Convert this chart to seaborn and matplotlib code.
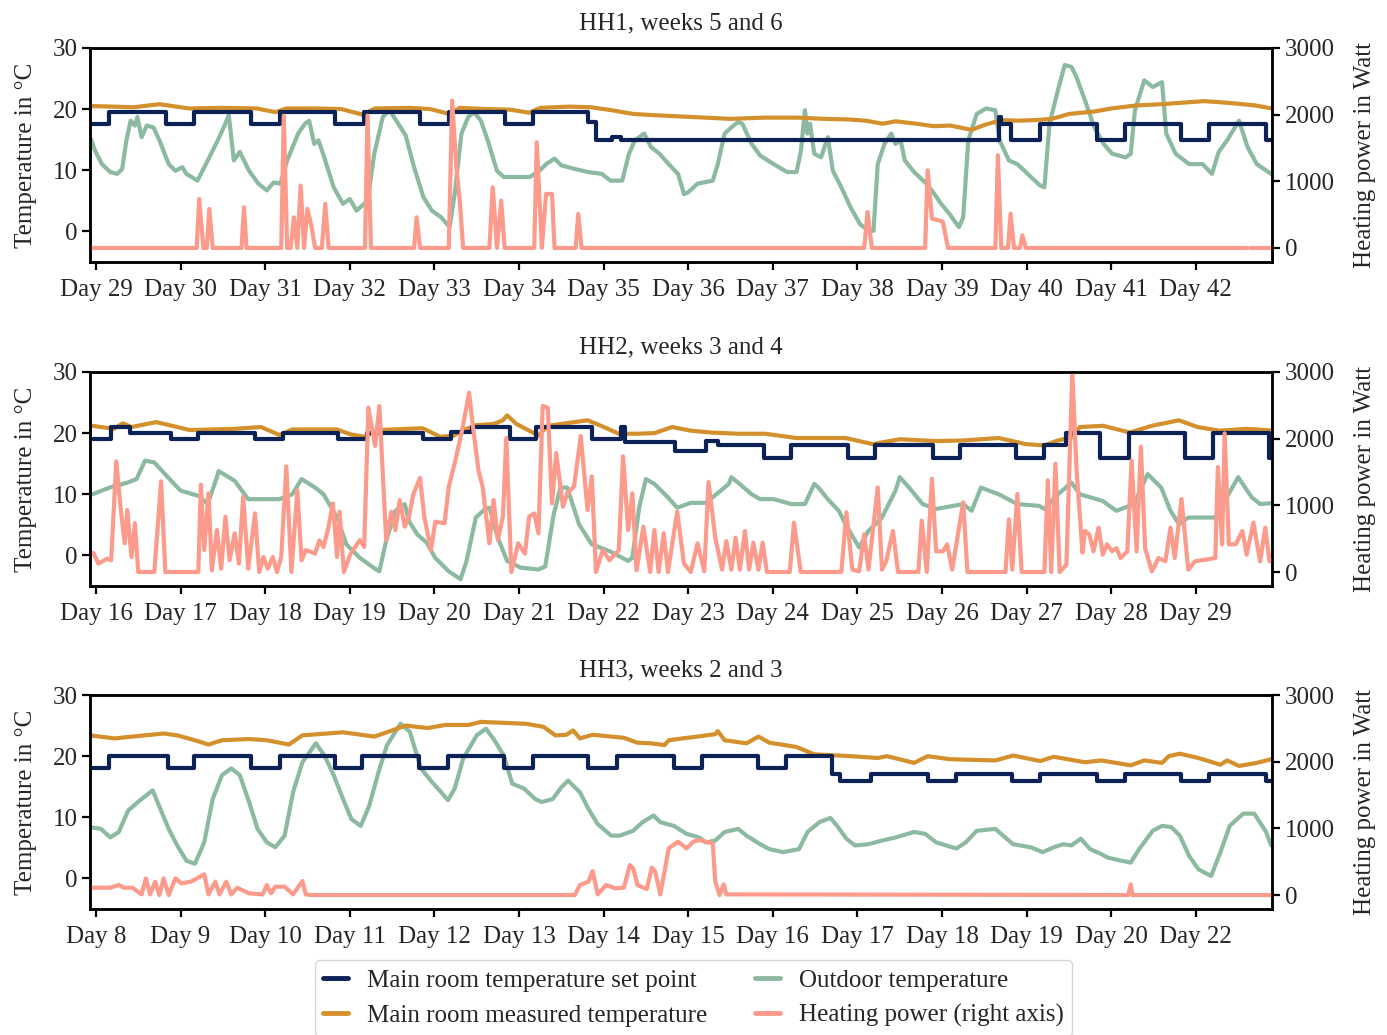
import numpy as np
import pandas as pd
import matplotlib
matplotlib.use("Agg")
import matplotlib.pyplot as plt
from matplotlib.lines import Line2D
import seaborn as sns

# ---------------------------------------------------------------- data
# time axis: fractional day numbers; temperatures in degC, power in W

# HH1, weeks 5 and 6
hh1_set_t = [28.93, 29.15, 29.83, 30.16, 30.83, 31.17, 31.82, 32.17, 32.83, 33.17, 33.83, 34.16,
             34.82, 34.91, 35.10, 35.20, 39.67, 39.70, 39.81, 40.16, 40.83, 41.16, 41.83, 42.15,
             42.83, 42.90]
hh1_set_v = [17.5, 19.5, 17.5, 19.5, 17.5, 19.5, 17.5, 19.5, 17.5, 19.5, 17.5, 19.5,
             17.9, 15.0, 15.5, 15.0, 18.7, 17.5, 15.0, 17.5, 15.0, 17.5, 15.0, 17.5,
             15.0, 15.0]
hh1_meas_t = [28.93, 29.2, 29.45, 29.75, 29.9, 30.1, 30.5, 30.9, 31.12, 31.25, 31.6, 31.9, 32.15,
              32.3, 32.7, 32.95, 33.18, 33.3, 33.6, 33.9, 34.12, 34.25, 34.6, 34.85, 35.1, 35.35,
              35.6, 35.9, 36.2, 36.5, 36.9, 37.3, 37.6, 37.9, 38.1, 38.3, 38.45, 38.7, 38.9, 39.1,
              39.35, 39.5, 39.7, 39.9, 40.1, 40.3, 40.5, 40.8, 41.0, 41.3, 41.6, 41.9, 42.1, 42.4,
              42.7, 42.9]
hh1_meas_v = [20.5, 20.4, 20.3, 20.8, 20.5, 20.1, 20.2, 20.1, 19.5, 20.1, 20.1, 20.0, 19.1,
              20.1, 20.2, 20.0, 19.2, 20.2, 20.0, 19.9, 19.4, 20.2, 20.4, 20.3, 19.8, 19.2,
              19.0, 18.8, 18.6, 18.4, 18.6, 18.6, 18.4, 18.3, 18.1, 17.6, 18.0, 17.6, 17.2, 17.3,
              16.6, 17.4, 18.2, 18.1, 18.2, 18.4, 19.2, 19.6, 20.1, 20.6, 20.8, 21.1, 21.3, 21.0,
              20.6, 20.1]
hh1_out_t = [28.94, 28.99, 29.07, 29.17, 29.25, 29.31, 29.36, 29.41, 29.46, 29.49, 29.54, 29.60,
             29.68, 29.75, 29.86, 29.94, 30.02, 30.07, 30.20, 30.34, 30.44, 30.52, 30.57, 30.63,
             30.70, 30.81, 30.92, 31.02, 31.10, 31.18, 31.26, 31.34, 31.39, 31.47, 31.52, 31.58,
             31.63, 31.71, 31.81, 31.92, 32.00, 32.08, 32.16, 32.21, 32.29, 32.39, 32.47, 32.55,
             32.66, 32.76, 32.87, 32.97, 33.08, 33.18, 33.24, 33.32, 33.40, 33.47, 33.55, 33.63,
             33.74, 33.82, 34.13, 34.24, 34.32, 34.42, 34.50, 34.66, 34.82, 34.98, 35.08, 35.22,
             35.30, 35.37, 35.48, 35.56, 35.66, 35.77, 35.88, 35.95, 36.00, 36.11, 36.29, 36.35,
             36.43, 36.51, 36.59, 36.64, 36.75, 36.85, 37.01, 37.17, 37.28, 37.33, 37.38, 37.41,
             37.44, 37.49, 37.57, 37.65, 37.71, 37.81, 37.92, 38.03, 38.13, 38.19, 38.24, 38.32,
             38.40, 38.45, 38.51, 38.56, 38.67, 38.80, 38.88, 38.99, 39.09, 39.20, 39.25, 39.31,
             39.41, 39.52, 39.63, 39.68, 39.79, 39.89, 40.05, 40.16, 40.21, 40.27, 40.37, 40.45,
             40.53, 40.59, 40.69, 40.80, 40.91, 41.01, 41.17, 41.23, 41.28, 41.39, 41.49, 41.60,
             41.65, 41.76, 41.92, 42.08, 42.19, 42.27, 42.37, 42.51, 42.61, 42.72, 42.89]
hh1_out_v = [15.1, 13.2, 11.0, 9.7, 9.4, 10.2, 14.9, 18.1, 17.3, 18.7, 15.4, 17.3,
             17.0, 14.9, 11.0, 9.9, 10.5, 9.4, 8.3, 12.1, 14.9, 17.3, 19.0, 11.6,
             13.0, 9.9, 7.8, 6.7, 8.0, 7.8, 11.6, 14.3, 16.0, 17.6, 18.1, 14.3,
             14.9, 11.6, 7.2, 4.5, 5.3, 3.4, 4.4, 5.0, 12.7, 18.7, 19.8, 18.1,
             15.7, 10.5, 5.6, 3.4, 2.3, 0.7, 6.1, 16.0, 18.7, 19.5, 18.1, 14.9,
             9.9, 8.9, 8.9, 9.9, 11.0, 11.9, 10.8, 10.2, 9.7, 9.4, 8.3, 8.3,
             12.7, 14.9, 16.0, 13.8, 12.7, 11.0, 9.4, 6.1, 6.4, 7.8, 8.3, 11.0,
             16.0, 17.0, 17.9, 17.6, 14.3, 12.4, 11.0, 9.7, 9.7, 13.0, 19.8, 16.0,
             17.6, 12.7, 12.1, 15.4, 9.9, 7.2, 3.9, 1.2, 0.1, 0.1, 11.0, 14.3,
             16.0, 14.3, 14.9, 11.6, 9.7, 8.0, 6.7, 4.5, 2.8, 0.7, 2.3, 14.9,
             19.2, 20.1, 19.8, 14.9, 11.6, 11.0, 8.9, 7.5, 7.2, 17.6, 23.1, 27.2,
             26.9, 25.2, 21.4, 17.0, 14.3, 12.7, 12.1, 12.7, 19.8, 24.7, 23.6, 24.4,
             16.0, 12.7, 11.0, 11.0, 9.4, 13.0, 14.9, 18.1, 13.8, 11.0, 9.4]
hh1_heat_t = [28.93, 30.19, 30.22, 30.27, 30.31, 30.34, 30.38, 30.72, 30.75, 30.78, 31.19, 31.22,
              31.26, 31.30, 31.34, 31.38, 31.42, 31.46, 31.50, 31.55, 31.59, 31.67, 31.71, 31.75,
              32.18, 32.21, 32.25, 32.76, 32.79, 32.83, 33.17, 33.21, 33.26, 33.30, 33.34, 33.65,
              33.69, 33.74, 33.79, 33.83, 34.18, 34.21, 34.27, 34.32, 34.39, 34.42, 34.67, 34.70,
              34.74, 38.08, 38.12, 38.17, 38.80, 38.83, 38.88, 38.96, 39.01, 39.07, 39.63, 39.66,
              39.70, 39.78, 39.81, 39.85, 39.92, 39.95, 39.99, 42.60, 42.62, 42.64, 42.90]
hh1_heat_v = [0, 0, 735, 0, 0, 585, 0, 0, 610, 0, 0, 1985,
              0, 0, 460, 0, 935, 0, 585, 310, 0, 0, 660, 0,
              0, 1985, 0, 0, 460, 0, 0, 2210, 1210, 710, 0, 0,
              910, 0, 710, 0, 0, 1585, 0, 810, 810, 0, 0, 510,
              0, 0, 540, 0, 0, 1165, 440, 415, 390, 0, 0, 1390,
              0, 0, 515, 0, 0, 190, 0, 0, np.nan, 0, 0]

# HH2, weeks 3 and 4
hh2_set_t = [15.96, 16.18, 16.40, 16.89, 17.21, 17.88, 18.21, 18.86, 19.20, 19.87, 20.20, 20.44,
             20.89, 21.20, 21.86, 22.21, 22.25, 22.84, 23.21, 23.35, 23.89, 24.21, 24.89, 25.21,
             25.89, 26.21, 26.88, 27.21, 27.47, 27.87, 28.21, 28.87, 29.20, 29.87, 29.94]
hh2_set_v = [19.0, 21.0, 20.0, 19.0, 20.0, 19.0, 20.0, 19.0, 20.0, 19.0, 20.2, 21.0,
             19.0, 21.0, 19.0, 21.0, 18.5, 17.0, 18.7, 18.1, 16.0, 18.1, 16.0, 18.1,
             16.0, 18.1, 16.0, 18.1, 20.1, 16.0, 20.1, 16.0, 20.1, 16.0, 16.0]
hh2_meas_t = [15.96, 16.21, 16.32, 16.42, 16.71, 16.90, 17.11, 17.64, 17.95, 18.17, 18.32, 18.85,
              19.01, 19.17, 19.33, 19.86, 20.07, 20.23, 20.33, 20.49, 20.70, 20.81, 20.86, 20.97,
              21.23, 21.34, 21.55, 21.81, 21.97, 22.18, 22.39, 22.60, 22.81, 23.03, 23.27, 23.59,
              23.91, 24.28, 24.86, 25.18, 25.50, 25.93, 26.25, 26.67, 26.99, 27.21, 27.37, 27.53,
              27.63, 27.90, 28.22, 28.48, 28.80, 29.02, 29.28, 29.60, 29.93]
hh2_meas_v = [21.2, 20.7, 21.6, 21.0, 21.8, 21.2, 20.5, 20.7, 21.0, 19.7, 20.6, 20.6,
              19.8, 19.4, 20.5, 20.8, 19.4, 19.6, 20.4, 21.3, 21.5, 22.1, 22.9, 21.5,
              19.6, 21.2, 21.6, 22.1, 21.2, 19.9, 19.9, 20.0, 21.0, 20.4, 20.1, 19.9,
              19.9, 19.2, 19.2, 18.2, 19.0, 18.7, 18.8, 19.2, 18.2, 18.0, 18.8, 19.3,
              21.0, 21.2, 20.1, 21.2, 22.1, 21.0, 20.4, 20.7, 20.4]
hh2_out_t = [15.96, 16.16, 16.37, 16.48, 16.58, 16.69, 16.85, 17.00, 17.22, 17.32, 17.43, 17.45,
             17.64, 17.80, 18.17, 18.32, 18.43, 18.59, 18.69, 18.85, 18.96, 19.12, 19.28, 19.35,
             19.43, 19.54, 19.65, 19.70, 19.80, 19.91, 20.01, 20.17, 20.31, 20.38, 20.49, 20.60,
             20.65, 20.75, 20.86, 21.02, 21.23, 21.31, 21.41, 21.49, 21.57, 21.71, 21.86, 22.07,
             22.29, 22.34, 22.42, 22.50, 22.60, 22.76, 22.87, 23.03, 23.21, 23.48, 23.51, 23.59,
             23.75, 23.85, 24.01, 24.22, 24.38, 24.49, 24.54, 24.65, 24.78, 24.86, 25.02, 25.13,
             25.29, 25.45, 25.50, 25.61, 25.77, 25.93, 26.25, 26.35, 26.46, 26.67, 26.89, 27.15,
             27.21, 27.37, 27.53, 27.63, 27.90, 28.06, 28.27, 28.43, 28.59, 28.70, 28.80, 28.91,
             29.23, 29.34, 29.50, 29.66, 29.76, 29.93]
hh2_out_v = [10.0, 11.1, 11.9, 12.5, 15.5, 15.2, 12.8, 10.6, 9.7, 8.4, 12.8, 13.8,
             12.2, 9.2, 9.2, 10.0, 12.5, 11.1, 10.0, 6.2, 1.8, -0.4, -2.0, -2.6,
             2.4, 7.3, 8.4, 5.6, 3.4, 2.1, -0.4, -2.6, -3.9, -0.9, 6.2, 7.6,
             7.8, 2.9, -0.9, -2.0, -2.3, -1.8, 6.7, 11.1, 11.1, 5.1, 1.8, 0.7,
             -0.9, -0.4, 7.8, 12.5, 11.7, 9.5, 7.8, 8.6, 8.6, 11.7, 12.8, 11.9,
             10.0, 9.2, 9.2, 8.4, 8.4, 11.7, 11.1, 9.2, 7.3, 5.1, 1.3, 4.0,
             6.2, 10.6, 12.8, 11.1, 8.4, 7.6, 8.4, 7.3, 11.1, 10.0, 8.4, 8.1,
             7.6, 10.0, 11.9, 10.0, 8.9, 7.3, 8.4, 13.3, 11.1, 7.3, 5.1, 6.2,
             6.2, 8.9, 12.8, 9.5, 8.4, 8.6]
hh2_heat_t = [15.97, 16.03, 16.13, 16.18, 16.24, 16.29, 16.34, 16.37, 16.42, 16.46, 16.50, 16.69,
              16.77, 16.82, 17.21, 17.24, 17.28, 17.33, 17.37, 17.43, 17.48, 17.53, 17.58, 17.64,
              17.69, 17.74, 17.80, 17.88, 17.93, 17.98, 18.03, 18.09, 18.14, 18.19, 18.25, 18.31,
              18.38, 18.43, 18.48, 18.59, 18.64, 18.69, 18.75, 18.80, 18.85, 18.88, 18.93, 19.01,
              19.12, 19.17, 19.22, 19.30, 19.35, 19.43, 19.49, 19.54, 19.59, 19.65, 19.70, 19.75,
              19.83, 19.88, 19.96, 20.01, 20.12, 20.17, 20.25, 20.33, 20.41, 20.46, 20.52, 20.57,
              20.65, 20.70, 20.75, 20.81, 20.85, 20.91, 20.99, 21.07, 21.12, 21.18, 21.23, 21.28,
              21.34, 21.39, 21.44, 21.52, 21.57, 21.65, 21.73, 21.81, 21.86, 21.91, 21.99, 22.07,
              22.18, 22.23, 22.29, 22.34, 22.39, 22.47, 22.55, 22.60, 22.65, 22.71, 22.76, 22.87,
              22.95, 23.03, 23.11, 23.19, 23.24, 23.32, 23.40, 23.45, 23.51, 23.56, 23.61, 23.67,
              23.72, 23.77, 23.83, 23.88, 23.93, 24.20, 24.25, 24.33, 24.81, 24.87, 24.94, 25.02,
              25.08, 25.13, 25.24, 25.29, 25.34, 25.42, 25.48, 25.72, 25.76, 25.82, 25.88, 25.93,
              26.01, 26.06, 26.12, 26.25, 26.30, 26.75, 26.79, 26.83, 26.89, 26.94, 27.21, 27.25,
              27.29, 27.34, 27.39, 27.47, 27.54, 27.59, 27.66, 27.69, 27.74, 27.79, 27.85, 27.90,
              27.95, 28.01, 28.06, 28.11, 28.19, 28.24, 28.30, 28.35, 28.40, 28.48, 28.56, 28.64,
              28.70, 28.75, 28.83, 28.91, 28.99, 29.23, 29.26, 29.31, 29.34, 29.39, 29.47, 29.55,
              29.60, 29.68, 29.76, 29.82, 29.87, 29.93]
hh2_heat_v = [285, 125, 200, 175, 1660, 980, 430, 930, 225, 730, 0, 0,
              1360, 0, 0, 1310, 330, 1180, 25, 630, 50, 830, 175, 580,
              125, 1130, 50, 880, 0, 225, 50, 225, 0, 225, 1585, 0,
              1230, 175, 330, 275, 475, 375, 680, 1030, 225, 905, 0, 275,
              480, 375, 2465, 1890, 2490, 480, 905, 630, 1080, 680, 830, 1160,
              1410, 830, 330, 755, 730, 1280, 1685, 2140, 2690, 2140, 1535, 1280,
              430, 1080, 480, 830, 2010, 0, 430, 275, 830, 880, 580, 2490,
              2465, 1030, 1785, 980, 1180, 1280, 2040, 930, 1435, 0, 330, 175,
              330, 1735, 630, 1180, 25, 680, 0, 630, 0, 580, 0, 905,
              125, 0, 430, 10, 1350, 515, 35, 465, 35, 515, 35, 615,
              35, 440, 35, 440, 0, 0, 740, 0, 0, 895, 35, 10,
              565, 35, 1270, 35, 160, 615, 0, 0, 770, 0, 1400, 310,
              310, 415, 35, 1045, 0, 0, 790, 35, 1170, 0, 0, 1375,
              0, 1625, 0, 110, 3000, 1525, 290, 615, 565, 310, 665, 260,
              415, 310, 360, 210, 310, 1675, 310, 1880, 360, 10, 210, 160,
              665, 210, 1095, 35, 160, 210, 1575, 415, 2080, 415, 415, 615,
              260, 740, 160, 665, 160, 210]

# HH3, weeks 2 and 3
hh3_set_t = [7.93, 8.16, 8.85, 9.16, 9.83, 10.17, 10.82, 11.15, 11.82, 12.16, 12.82, 13.16,
             13.82, 14.16, 14.83, 15.16, 15.83, 16.16, 16.70, 16.79, 17.16, 17.83, 18.16, 18.83,
             19.16, 19.83, 20.16, 20.83, 21.16, 21.83, 21.90]
hh3_set_v = [18, 20, 18, 20, 18, 20, 18, 20, 18, 20, 18, 20,
             18, 20, 18, 20, 18, 20, 17.1, 16, 17.1, 16, 17.1, 16,
             17.1, 16, 17.1, 16, 17.1, 16, 16]
hh3_meas_t = [7.93, 8.22, 8.43, 8.80, 8.96, 9.17, 9.33, 9.49, 9.81, 10.02, 10.28, 10.44,
              10.92, 11.29, 11.50, 11.66, 11.92, 12.13, 12.40, 12.55, 13.08, 13.29, 13.43, 13.56,
              13.64, 13.72, 13.87, 14.24, 14.40, 14.56, 14.72, 14.77, 14.93, 15.11, 15.32, 15.35,
              15.43, 15.69, 15.83, 15.96, 16.28, 16.49, 16.92, 17.24, 17.35, 17.67, 17.83, 18.09,
              18.63, 18.84, 19.16, 19.32, 19.69, 19.88, 20.23, 20.39, 20.60, 20.68, 20.81, 21.03,
              21.29, 21.37, 21.51, 21.72, 21.89]
hh3_meas_v = [23.4, 22.9, 23.2, 23.7, 23.4, 22.6, 21.9, 22.6, 22.8, 22.6, 21.9, 23.4,
              23.9, 23.2, 24.2, 25.0, 24.6, 25.1, 25.1, 25.6, 25.3, 24.8, 23.4, 23.5,
              24.2, 22.9, 23.5, 23.0, 22.2, 22.1, 21.8, 22.6, 22.9, 23.2, 23.6, 24.1,
              22.6, 22.1, 23.2, 22.2, 21.5, 20.3, 20.0, 19.7, 20.0, 18.9, 20.0, 19.5,
              19.3, 20.1, 19.2, 19.9, 19.0, 19.3, 18.5, 19.3, 18.9, 20.0, 20.4, 19.7,
              18.6, 19.3, 18.4, 18.9, 19.5]
hh3_out_t = [7.93, 8.06, 8.17, 8.27, 8.38, 8.54, 8.67, 8.86, 8.96, 9.07, 9.17, 9.28,
             9.38, 9.49, 9.60, 9.70, 9.81, 9.91, 10.02, 10.12, 10.23, 10.33, 10.44, 10.60,
             10.70, 10.81, 10.92, 11.02, 11.13, 11.23, 11.34, 11.44, 11.60, 11.71, 11.84, 11.97,
             12.08, 12.16, 12.24, 12.34, 12.50, 12.61, 12.71, 12.82, 12.92, 13.06, 13.19, 13.27,
             13.40, 13.50, 13.58, 13.72, 13.82, 13.93, 14.09, 14.19, 14.35, 14.46, 14.59, 14.67,
             14.83, 14.98, 15.13, 15.21, 15.32, 15.43, 15.59, 15.69, 15.85, 15.96, 16.12, 16.31,
             16.41, 16.55, 16.68, 16.76, 16.87, 16.97, 17.13, 17.29, 17.45, 17.67, 17.80, 17.93,
             18.17, 18.28, 18.41, 18.63, 18.84, 19.05, 19.19, 19.32, 19.43, 19.53, 19.64, 19.75,
             19.88, 19.96, 20.12, 20.23, 20.33, 20.49, 20.60, 20.71, 20.81, 20.92, 21.03, 21.18,
             21.29, 21.40, 21.56, 21.69, 21.83, 21.89]
hh3_out_v = [8.4, 8.1, 6.7, 7.6, 11.1, 13.0, 14.4, 8.1, 5.4, 2.9, 2.4, 5.9,
             13.0, 16.9, 18.0, 16.9, 12.5, 8.1, 5.9, 5.1, 7.0, 14.1, 19.0, 22.1,
             20.1, 16.9, 13.0, 9.7, 8.6, 11.9, 17.4, 21.8, 25.3, 24.0, 18.0, 15.8,
             14.1, 12.8, 14.7, 19.6, 23.4, 24.5, 22.6, 20.1, 15.5, 14.7, 13.0, 12.5,
             13.0, 14.9, 16.0, 14.1, 11.4, 8.9, 7.0, 7.0, 7.8, 9.2, 10.3, 9.2,
             8.6, 7.3, 6.7, 5.9, 6.2, 7.6, 8.1, 7.0, 5.6, 4.8, 4.3, 4.8,
             7.6, 9.2, 9.9, 8.6, 6.5, 5.4, 5.6, 6.2, 6.7, 7.6, 7.3, 5.9,
             4.9, 5.9, 7.8, 8.1, 5.6, 5.1, 4.3, 5.1, 5.6, 5.4, 6.5, 4.8,
             4.0, 3.4, 2.9, 2.6, 4.8, 7.8, 8.6, 8.4, 7.0, 3.7, 1.5, 0.4,
             4.3, 8.6, 10.6, 10.6, 7.6, 5.4]
hh3_heat_t = [7.93, 8.17, 8.27, 8.33, 8.43, 8.54, 8.59, 8.64, 8.70, 8.75, 8.80, 8.86,
              8.94, 9.01, 9.12, 9.28, 9.33, 9.41, 9.46, 9.54, 9.60, 9.67, 9.81, 9.97,
              10.02, 10.07, 10.12, 10.23, 10.33, 10.44, 10.48, 10.55, 13.66, 13.72, 13.82, 13.87,
              13.93, 14.03, 14.14, 14.24, 14.31, 14.35, 14.40, 14.51, 14.57, 14.61, 14.67, 14.77,
              14.88, 14.98, 15.06, 15.13, 15.21, 15.29, 15.32, 15.37, 15.42, 15.45, 20.20, 20.23,
              20.25, 21.89]
hh3_heat_v = [110, 110, 150, 110, 110, 10, 250, 10, 200, 0, 250, 0,
              250, 175, 200, 310, 10, 200, 10, 200, 10, 110, 25, 10,
              150, 25, 125, 125, 10, 210, 10, 0, 0, 150, 200, 360,
              10, 150, 100, 110, 450, 400, 150, 90, 410, 350, 10, 700,
              800, 700, 800, 825, 800, 775, 200, 0, 160, 10, 0, 160,
              0, 0]

hh1_days = list(range(29, 43))
hh2_days = list(range(16, 30))
hh3_days = list(range(8, 22))
hh3_day_labels = [8, 9, 10, 11, 12, 13, 14, 15, 16, 17, 18, 19, 20, 22]

# ---------------------------------------------------------------- style
sns.set_theme(style="ticks")
plt.rcParams["font.family"] = ["Liberation Serif", "DejaVu Serif"]
FS = 18

C_SET = "#0c2256"
C_MEAS = "#d4902c"
C_OUT = "#8cbaa0"
C_HEAT = "#fc9b8b"
LW = 3.0

fig = plt.figure(figsize=(13.87, 10.35), dpi=100)

left, width, height = 0.0649, 0.8522, 0.2068
bottoms = [0.7469, 0.4338, 0.1217]


def style_axis(a):
    for s in a.spines.values():
        s.set_linewidth(1.8)
        s.set_color("black")
    a.tick_params(direction="out", length=6, width=1.6, labelsize=FS, color="black", pad=3)
    a.tick_params(axis="x", pad=6)


def panel(bottom, title, set_t, set_v, meas_t, meas_v, out_t, out_v,
          heat_t, heat_v, days, day_labels):
    ax = fig.add_axes([left, bottom, width, height])
    df_out = pd.DataFrame({"t": out_t, "v": out_v})
    df_meas = pd.DataFrame({"t": meas_t, "v": meas_v})
    df_set = pd.DataFrame({"t": set_t, "v": set_v})
    sns.lineplot(data=df_out, x="t", y="v", color=C_OUT, lw=LW, estimator=None,
                 sort=False, ax=ax)
    sns.lineplot(data=df_meas, x="t", y="v", color=C_MEAS, lw=LW, estimator=None,
                 sort=False, ax=ax)
    sns.lineplot(data=df_set, x="t", y="v", color=C_SET, lw=LW, estimator=None,
                 sort=False, drawstyle="steps-post", ax=ax)
    ax.set_ylim(-5, 30)
    ax.set_yticks([0, 10, 20, 30])
    ax.set_xlim(days[0] - 0.07, days[0] + 13.9)
    ax.set_xticks(days)
    ax.set_xticklabels([f"Day {d}" for d in day_labels])
    ax.set_xlabel("")
    ax.set_ylabel("Temperature in °C", fontsize=FS, labelpad=11)
    ax.set_title(title, fontsize=FS, pad=13)
    style_axis(ax)

    ax2 = ax.twinx()
    df_heat = pd.DataFrame({"t": heat_t, "v": heat_v})
    df_heat["seg"] = df_heat["v"].isna().cumsum()
    df_heat = df_heat.dropna()
    sns.lineplot(data=df_heat, x="t", y="v", units="seg", color=C_HEAT, lw=LW,
                 estimator=None, sort=False, ax=ax2)
    ax2.set_ylim(-210, 3000)
    ax2.set_yticks([0, 1000, 2000, 3000])
    ax2.set_ylabel("Heating power in Watt", fontsize=FS, labelpad=14)
    ax2.set_xlim(ax.get_xlim())
    style_axis(ax2)
    return ax


panel(bottoms[0], "HH1, weeks 5 and 6", hh1_set_t, hh1_set_v, hh1_meas_t, hh1_meas_v,
      hh1_out_t, hh1_out_v, hh1_heat_t, hh1_heat_v, hh1_days, hh1_days)
panel(bottoms[1], "HH2, weeks 3 and 4", hh2_set_t, hh2_set_v, hh2_meas_t, hh2_meas_v,
      hh2_out_t, hh2_out_v, hh2_heat_t, hh2_heat_v, hh2_days, hh2_days)
panel(bottoms[2], "HH3, weeks 2 and 3", hh3_set_t, hh3_set_v, hh3_meas_t, hh3_meas_v,
      hh3_out_t, hh3_out_v, hh3_heat_t, hh3_heat_v, hh3_days, hh3_day_labels)

handles = [Line2D([], [], color=C_SET, lw=3.5),
           Line2D([], [], color=C_MEAS, lw=3.5),
           Line2D([], [], color=C_OUT, lw=3.5),
           Line2D([], [], color=C_HEAT, lw=3.5)]
labels = ["Main room temperature set point", "Main room measured temperature",
          "Outdoor temperature", "Heating power (right axis)"]
fig.legend(handles, labels, loc="upper center", bbox_to_anchor=(0.5, 0.072), ncol=2,
           fontsize=FS, handlelength=1.0, handletextpad=0.75, columnspacing=1.9,
           frameon=True, fancybox=True, edgecolor="#cccccc", borderpad=0.35,
           labelspacing=0.5, borderaxespad=0.0)

fig.savefig("out.png", dpi=100)
